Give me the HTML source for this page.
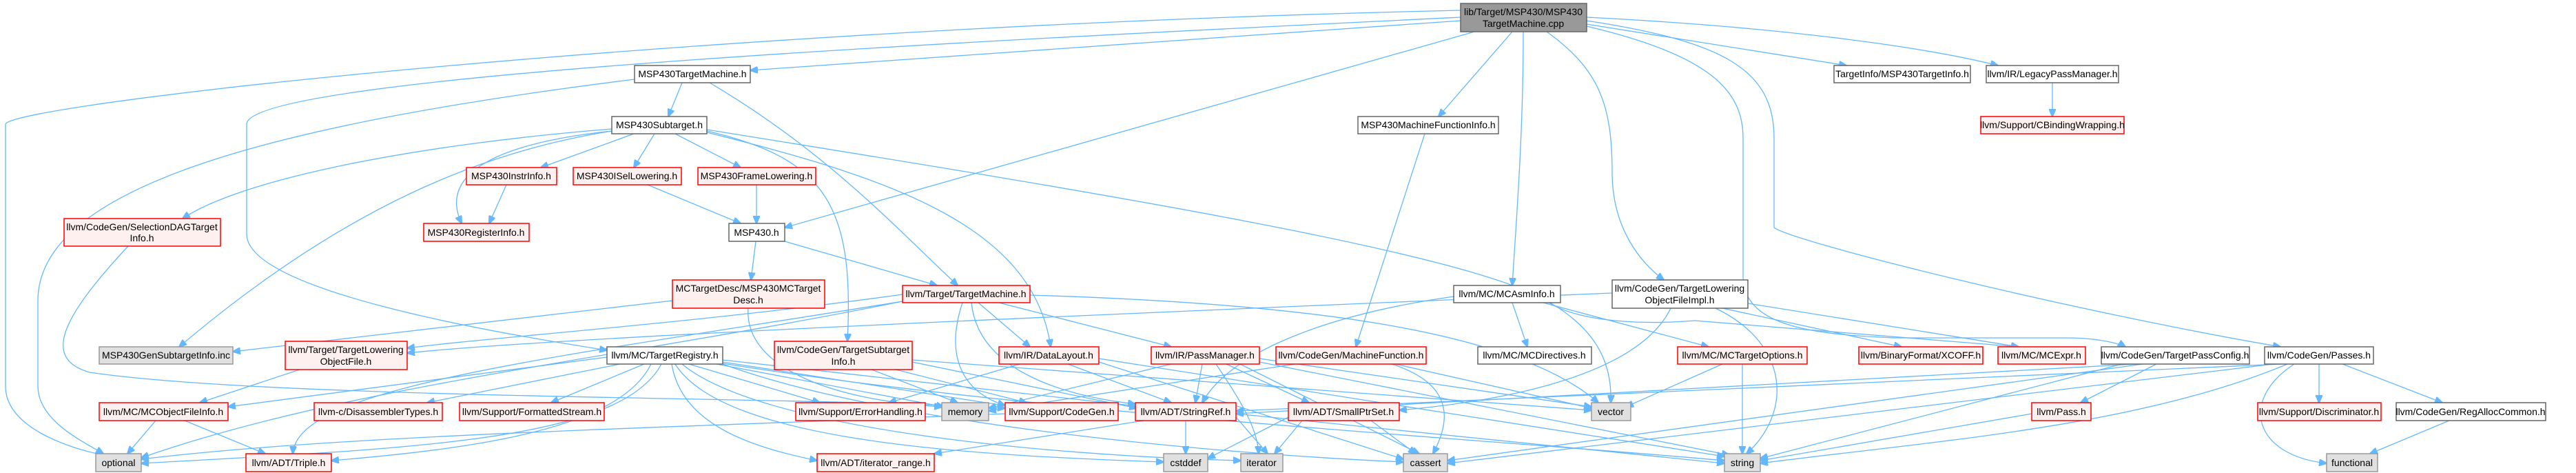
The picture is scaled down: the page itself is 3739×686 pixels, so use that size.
<!DOCTYPE html>
<html><head><meta charset="utf-8"><style>
html,body{margin:0;padding:0;background:#fff;}
svg{display:block;}
text{font-family:"Liberation Sans",sans-serif;font-size:14px;fill:#000;text-anchor:middle;}
.w{fill:#fff;stroke:#666;stroke-width:1.5}
.r{fill:#FFF0F0;stroke:#FF0000;stroke-width:1.5}
.g{fill:#E0E0E0;stroke:#999;stroke-width:1.5}
.root{fill:#999;stroke:#666;stroke-width:1.5}
path{fill:none;stroke:#63B8FF;stroke-width:1.3;marker-end:url(#a);}
</style></head><body>
<svg width="3739" height="686" viewBox="0 0 3739 686" xmlns="http://www.w3.org/2000/svg">
<defs><marker id="a" markerWidth="12" markerHeight="10" refX="11" refY="5" orient="auto" markerUnits="userSpaceOnUse"><path d="M0,0 L12,5 L0,10 z" style="fill:#63B8FF;stroke:#63B8FF;marker-end:none"/></marker></defs>
<g>
<path d="M2120,15 C1000,40 20,150 8,180 L8,560 C8,620 100,650 150,660"/>
<path d="M2120,25 C1400,60 360,110 358,180 L358,340 C360,420 700,480 881,508"/>
<path d="M2120,30 L1089,102"/>
<path d="M921,115 C400,180 50,270 55,440 L55,560 C55,610 120,640 150,658"/>
<path d="M2140,46 L1139,330"/>
<path d="M2195,46 L2088,169"/>
<path d="M2211,46 C2211,200 2200,330 2195,414"/>
<path d="M2245,46 C2320,100 2340,150 2340,250 C2340,330 2380,380 2415,406"/>
<path d="M2303,35 L2680,95"/>
<path d="M2303,25 C2600,40 2800,70 2900,95"/>
<path d="M2303,30 C2500,60 2575,100 2575,200 L2575,330 C2600,350 3000,450 3310,503"/>
<path d="M2303,38 C2480,80 2530,130 2530,200 L2530,400 C2530,470 2620,485 2750,490 L3000,490 C3050,490 3080,500 3085,503"/>
<path d="M990,120 L970,169"/>
<path d="M1030,120 C1200,220 1300,330 1390,414"/>
<path d="M920,194 L785,243"/>
<path d="M950,194 L920,243"/>
<path d="M980,194 L1075,243"/>
<path d="M888,190 C700,210 640,260 670,324"/>
<path d="M888,187 C600,210 350,260 265,317"/>
<path d="M888,190 C700,220 500,300 260,503"/>
<path d="M1026,190 C1200,230 1240,300 1230,495"/>
<path d="M1026,192 C1300,260 1500,330 1525,503"/>
<path d="M1026,188 C1600,280 2150,370 2250,440 C2300,470 2400,470 2460,465 L2930,503"/>
<path d="M735,268 L710,324"/>
<path d="M940,268 L1075,324"/>
<path d="M1098,268 L1098,324"/>
<path d="M1097,350 L1090,406"/>
<path d="M1139,350 L1360,414"/>
<path d="M976,436 L338,510"/>
<path d="M1086,447 C1080,530 1200,580 1367,590"/>
<path d="M1310,427 C1000,470 700,490 591,505"/>
<path d="M1420,439 L1495,503"/>
<path d="M1450,439 L1700,503"/>
<path d="M1410,439 C1420,540 1550,575 1648,586"/>
<path d="M1397,439 C1370,520 1400,570 1459,588"/>
<path d="M1310,437 C900,520 500,560 205,664"/>
<path d="M1310,437 C800,520 430,560 425,658"/>
<path d="M1495,428 C1900,440 2200,480 2320,584"/>
<path d="M881,518 L331,590"/>
<path d="M900,528 L620,584"/>
<path d="M935,528 L800,584"/>
<path d="M945,528 C900,620 700,650 481,668"/>
<path d="M960,528 C900,640 600,650 205,672"/>
<path d="M1000,528 L1190,584"/>
<path d="M1040,528 L1370,590"/>
<path d="M1049,525 L1470,590"/>
<path d="M1049,522 L1660,590"/>
<path d="M975,528 C990,620 1100,650 1186,668"/>
<path d="M980,528 C1050,640 1400,660 1689,670"/>
<path d="M990,528 C1100,620 1500,660 1801,668"/>
<path d="M1049,528 C1300,620 1800,660 2037,670"/>
<path d="M1049,527 C1500,600 2200,640 2503,668"/>
<path d="M435,536 L290,584"/>
<path d="M226,610 L185,658"/>
<path d="M268,610 L385,658"/>
<path d="M186,357 C90,460 60,520 130,540 C400,580 1200,575 1459,592"/>
<path d="M1265,536 L1390,584"/>
<path d="M1300,536 L1490,584"/>
<path d="M1324,525 L1650,592"/>
<path d="M1324,522 L2310,595"/>
<path d="M1480,528 L1290,584"/>
<path d="M1550,528 L1700,584"/>
<path d="M1595,525 L2037,666"/>
<path d="M1595,520 L2503,662"/>
<path d="M1700,528 L1435,592"/>
<path d="M1745,528 L1735,584"/>
<path d="M1765,528 C1800,580 1825,620 1827,658"/>
<path d="M1780,528 L1900,584"/>
<path d="M1800,528 L2060,658"/>
<path d="M1828,525 L2510,660"/>
<path d="M1828,520 L2310,590"/>
<path d="M1721,610 L1721,658"/>
<path d="M1660,610 L1356,658"/>
<path d="M1794,600 L2503,672"/>
<path d="M1794,605 L1840,658"/>
<path d="M1459,600 C1000,620 500,630 205,666"/>
<path d="M1890,610 L1850,658"/>
<path d="M1990,610 L2055,658"/>
<path d="M1870,605 L1753,665"/>
<path d="M2020,528 C2120,560 2100,620 2080,658"/>
<path d="M2025,528 L2310,592"/>
<path d="M1880,528 L1435,596"/>
<path d="M2068,194 L1968,503"/>
<path d="M2195,439 L2217,503"/>
<path d="M2240,439 L2480,503"/>
<path d="M2250,439 C2320,480 2340,530 2338,584"/>
<path d="M2110,430 C1900,460 1780,520 1745,584"/>
<path d="M2425,447 C2380,540 2200,580 2031,595"/>
<path d="M2500,447 L2760,503"/>
<path d="M2490,447 C2600,500 2600,600 2535,658"/>
<path d="M2340,425 C1500,460 800,490 591,512"/>
<path d="M2537,440 L2930,503"/>
<path d="M2500,528 L2360,590"/>
<path d="M2529,528 L2529,658"/>
<path d="M2979,120 L2979,169"/>
<path d="M3130,528 L3020,584"/>
<path d="M3100,528 L1794,600"/>
<path d="M3110,528 L2101,668"/>
<path d="M3080,528 L2555,665"/>
<path d="M3366,528 L3366,584"/>
<path d="M3400,528 L3545,584"/>
<path d="M3330,528 C3250,580 3270,660 3377,672"/>
<path d="M3320,528 C3100,620 2800,640 2555,672"/>
<path d="M3300,528 L2101,672"/>
<path d="M3310,528 L1794,596"/>
<path d="M2949,600 L2555,668"/>
<path d="M3555,610 L3440,658"/>
</g>
<g>
<rect class="root" x="2120" y="5" width="183" height="41"/><text x="2211" y="22">lib/Target/MSP430/MSP430</text><text x="2211" y="39">TargetMachine.cpp</text>
<rect class="w" x="921" y="95" width="168" height="25"/><text x="1005" y="112">MSP430TargetMachine.h</text>
<rect class="w" x="888" y="169" width="138" height="25"/><text x="957" y="186">MSP430Subtarget.h</text>
<rect class="r" x="677" y="243" width="131" height="25"/><text x="742" y="260">MSP430InstrInfo.h</text>
<rect class="r" x="832" y="243" width="157" height="25"/><text x="910" y="260">MSP430ISelLowering.h</text>
<rect class="r" x="1013" y="243" width="171" height="25"/><text x="1098" y="260">MSP430FrameLowering.h</text>
<rect class="r" x="615" y="324" width="153" height="26"/><text x="691" y="342">MSP430RegisterInfo.h</text>
<rect class="r" x="93" y="317" width="227" height="40"/><text x="206" y="334">llvm/CodeGen/SelectionDAGTarget</text><text x="206" y="350">Info.h</text>
<rect class="w" x="1058" y="324" width="81" height="26"/><text x="1098" y="342">MSP430.h</text>
<rect class="r" x="976" y="406" width="221" height="41"/><text x="1086" y="423">MCTargetDesc/MSP430MCTarget</text><text x="1086" y="440">Desc.h</text>
<rect class="r" x="1310" y="414" width="185" height="25"/><text x="1402" y="431">llvm/Target/TargetMachine.h</text>
<rect class="g" x="144" y="503" width="194" height="25"/><text x="241" y="520">MSP430GenSubtargetInfo.inc</text>
<rect class="r" x="414" y="495" width="177" height="41"/><text x="502" y="512">llvm/Target/TargetLowering</text><text x="502" y="529">ObjectFile.h</text>
<rect class="w" x="881" y="503" width="168" height="25"/><text x="965" y="520">llvm/MC/TargetRegistry.h</text>
<rect class="r" x="1124" y="495" width="200" height="41"/><text x="1224" y="512">llvm/CodeGen/TargetSubtarget</text><text x="1224" y="529">Info.h</text>
<rect class="r" x="1450" y="503" width="145" height="25"/><text x="1522" y="520">llvm/IR/DataLayout.h</text>
<rect class="r" x="1671" y="503" width="157" height="25"/><text x="1749" y="520">llvm/IR/PassManager.h</text>
<rect class="r" x="144" y="584" width="187" height="26"/><text x="237" y="602">llvm/MC/MCObjectFileInfo.h</text>
<rect class="r" x="456" y="584" width="186" height="26"/><text x="549" y="602">llvm-c/DisassemblerTypes.h</text>
<rect class="r" x="667" y="584" width="210" height="26"/><text x="772" y="602">llvm/Support/FormattedStream.h</text>
<rect class="r" x="1155" y="584" width="188" height="26"/><text x="1249" y="602">llvm/Support/ErrorHandling.h</text>
<rect class="g" x="1367" y="584" width="68" height="26"/><text x="1401" y="602">memory</text>
<rect class="r" x="1459" y="584" width="164" height="26"/><text x="1541" y="602">llvm/Support/CodeGen.h</text>
<rect class="r" x="1648" y="584" width="146" height="26"/><text x="1721" y="602">llvm/ADT/StringRef.h</text>
<rect class="g" x="139" y="658" width="66" height="26"/><text x="172" y="676">optional</text>
<rect class="r" x="357" y="658" width="124" height="26"/><text x="419" y="676">llvm/ADT/Triple.h</text>
<rect class="r" x="1186" y="658" width="170" height="26"/><text x="1271" y="676">llvm/ADT/iterator_range.h</text>
<rect class="g" x="1689" y="658" width="64" height="26"/><text x="1721" y="676">cstddef</text>
<rect class="g" x="1801" y="658" width="61" height="26"/><text x="1831" y="676">iterator</text>
<rect class="g" x="2037" y="658" width="64" height="26"/><text x="2069" y="676">cassert</text>
<rect class="g" x="2503" y="658" width="52" height="26"/><text x="2529" y="676">string</text>
<rect class="g" x="2310" y="584" width="57" height="26"/><text x="2338" y="602">vector</text>
<rect class="r" x="1870" y="584" width="161" height="26"/><text x="1950" y="602">llvm/ADT/SmallPtrSet.h</text>
<rect class="w" x="1971" y="169" width="204" height="25"/><text x="2073" y="186">MSP430MachineFunctionInfo.h</text>
<rect class="w" x="2110" y="414" width="155" height="25"/><text x="2187" y="431">llvm/MC/MCAsmInfo.h</text>
<rect class="w" x="2340" y="406" width="197" height="41"/><text x="2438" y="423">llvm/CodeGen/TargetLowering</text><text x="2438" y="440">ObjectFileImpl.h</text>
<rect class="r" x="1852" y="503" width="218" height="25"/><text x="1961" y="520">llvm/CodeGen/MachineFunction.h</text>
<rect class="w" x="2145" y="503" width="165" height="25"/><text x="2227" y="520">llvm/MC/MCDirectives.h</text>
<rect class="r" x="2435" y="503" width="188" height="25"/><text x="2529" y="520">llvm/MC/MCTargetOptions.h</text>
<rect class="r" x="2698" y="503" width="180" height="25"/><text x="2788" y="520">llvm/BinaryFormat/XCOFF.h</text>
<rect class="w" x="2662" y="95" width="198" height="25"/><text x="2761" y="112">TargetInfo/MSP430TargetInfo.h</text>
<rect class="w" x="2883" y="95" width="192" height="25"/><text x="2979" y="112">llvm/IR/LegacyPassManager.h</text>
<rect class="r" x="2875" y="169" width="208" height="25"/><text x="2979" y="186">llvm/Support/CBindingWrapping.h</text>
<rect class="r" x="2900" y="503" width="127" height="25"/><text x="2963" y="520">llvm/MC/MCExpr.h</text>
<rect class="w" x="3050" y="503" width="215" height="25"/><text x="3157" y="520">llvm/CodeGen/TargetPassConfig.h</text>
<rect class="w" x="3287" y="503" width="158" height="25"/><text x="3366" y="520">llvm/CodeGen/Passes.h</text>
<rect class="r" x="2949" y="584" width="86" height="26"/><text x="2992" y="602">llvm/Pass.h</text>
<rect class="r" x="3277" y="584" width="179" height="26"/><text x="3366" y="602">llvm/Support/Discriminator.h</text>
<rect class="w" x="3478" y="584" width="217" height="26"/><text x="3586" y="602">llvm/CodeGen/RegAllocCommon.h</text>
<rect class="g" x="3377" y="658" width="74" height="26"/><text x="3414" y="676">functional</text>
</g>
</svg>
</body></html>
